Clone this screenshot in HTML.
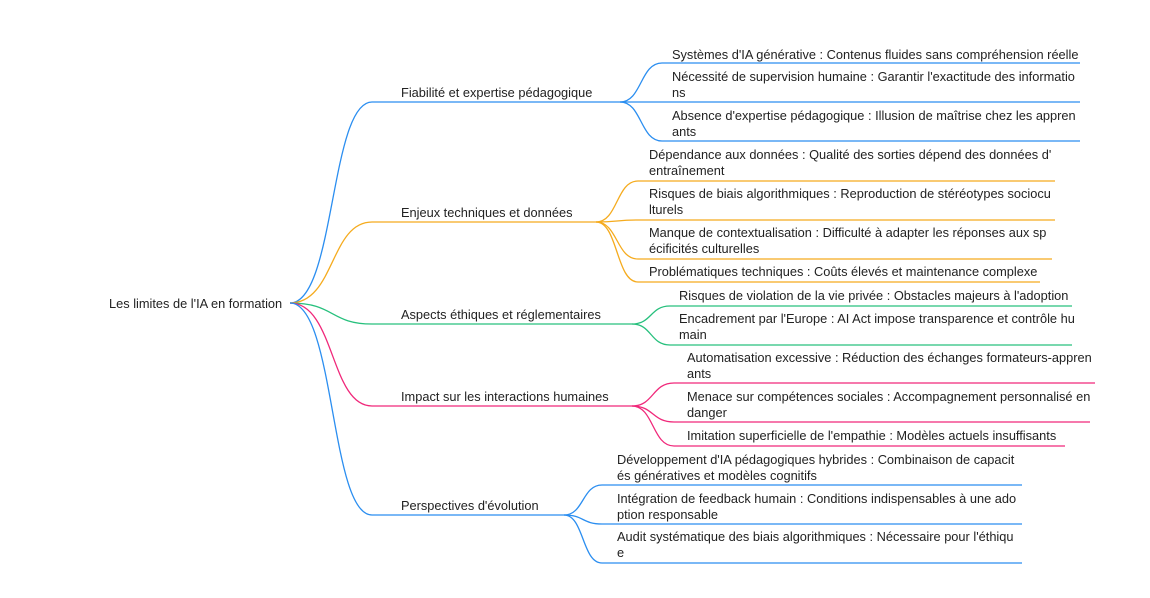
<!DOCTYPE html>
<html><head><meta charset="utf-8"><style>
html,body{margin:0;padding:0;background:#fff;}
svg{display:block;}
text{font-family:"Liberation Sans",sans-serif;font-size:12.8px;fill:#222;}
path{fill:none;stroke-width:1.3;}
.b{stroke:#2b8ef0}.o{stroke:#f5ab1e}.g{stroke:#27c07d}.p{stroke:#f0287a}
</style></head><body>
<svg width="1150" height="598" viewBox="0 0 1150 598">
<text x="109" y="308">Les limites de l'IA en formation</text>
<path class="b" d="M290 303 C335 303 330 102 372 102 L620 102"/>
<path class="o" d="M290 303 C335 303 330 222 372 222 L596 222"/>
<path class="g" d="M290 303 C335 303 330 324 372 324 L632 324"/>
<path class="p" d="M290 303 C335 303 330 406 372 406 L632 406"/>
<path class="b" d="M290 303 C335 303 330 515 372 515 L564 515"/>
<text x="401" y="97">Fiabilité et expertise pédagogique</text>
<text x="401" y="217">Enjeux techniques et données</text>
<text x="401" y="319">Aspects éthiques et réglementaires</text>
<text x="401" y="401">Impact sur les interactions humaines</text>
<text x="401" y="510">Perspectives d'évolution</text>
<path class="b" d="M620 102 C642 102 640 63 662 63 L1080 63"/>
<path class="b" d="M620 102 L1080 102"/>
<path class="b" d="M620 102 C642 102 640 141 662 141 L1080 141"/>
<text x="672" y="59">Systèmes d'IA générative : Contenus fluides sans compréhension réelle</text>
<text x="672" y="81">Nécessité de supervision humaine : Garantir l'exactitude des informatio</text>
<text x="672" y="97">ns</text>
<text x="672" y="120">Absence d'expertise pédagogique : Illusion de maîtrise chez les appren</text>
<text x="672" y="136">ants</text>
<path class="o" d="M596 222 C618 222 616 181 638 181 L1055 181"/>
<path class="o" d="M596 222 C618 222 616 220 638 220 L1055 220"/>
<path class="o" d="M596 222 C618 222 616 259 638 259 L1052 259"/>
<path class="o" d="M596 222 C618 222 616 282 638 282 L1040 282"/>
<text x="649" y="159">Dépendance aux données : Qualité des sorties dépend des données d'</text>
<text x="649" y="175">entraînement</text>
<text x="649" y="198">Risques de biais algorithmiques : Reproduction de stéréotypes sociocu</text>
<text x="649" y="214">lturels</text>
<text x="649" y="237">Manque de contextualisation : Difficulté à adapter les réponses aux sp</text>
<text x="649" y="253">écificités culturelles</text>
<text x="649" y="276">Problématiques techniques : Coûts élevés et maintenance complexe</text>
<path class="g" d="M632 324 C652 324 650 306 670 306 L1072 306"/>
<path class="g" d="M632 324 C652 324 650 345 670 345 L1072 345"/>
<text x="679" y="300">Risques de violation de la vie privée : Obstacles majeurs à l'adoption</text>
<text x="679" y="323">Encadrement par l'Europe : AI Act impose transparence et contrôle hu</text>
<text x="679" y="339">main</text>
<path class="p" d="M632 406 C654 406 652 383 674 383 L1095 383"/>
<path class="p" d="M632 406 C654 406 652 422 674 422 L1090 422"/>
<path class="p" d="M632 406 C654 406 652 446 674 446 L1065 446"/>
<text x="687" y="362">Automatisation excessive : Réduction des échanges formateurs-appren</text>
<text x="687" y="378">ants</text>
<text x="687" y="401">Menace sur compétences sociales : Accompagnement personnalisé en</text>
<text x="687" y="417">danger</text>
<text x="687" y="440">Imitation superficielle de l'empathie : Modèles actuels insuffisants</text>
<path class="b" d="M564 515 C584 515 582 485 602 485 L1022 485"/>
<path class="b" d="M564 515 C584 515 582 524 602 524 L1022 524"/>
<path class="b" d="M564 515 C584 515 582 563 602 563 L1022 563"/>
<text x="617" y="464">Développement d'IA pédagogiques hybrides : Combinaison de capacit</text>
<text x="617" y="480">és génératives et modèles cognitifs</text>
<text x="617" y="503">Intégration de feedback humain : Conditions indispensables à une ado</text>
<text x="617" y="519">ption responsable</text>
<text x="617" y="541">Audit systématique des biais algorithmiques : Nécessaire pour l'éthiqu</text>
<text x="617" y="557">e</text>
</svg>
</body></html>
